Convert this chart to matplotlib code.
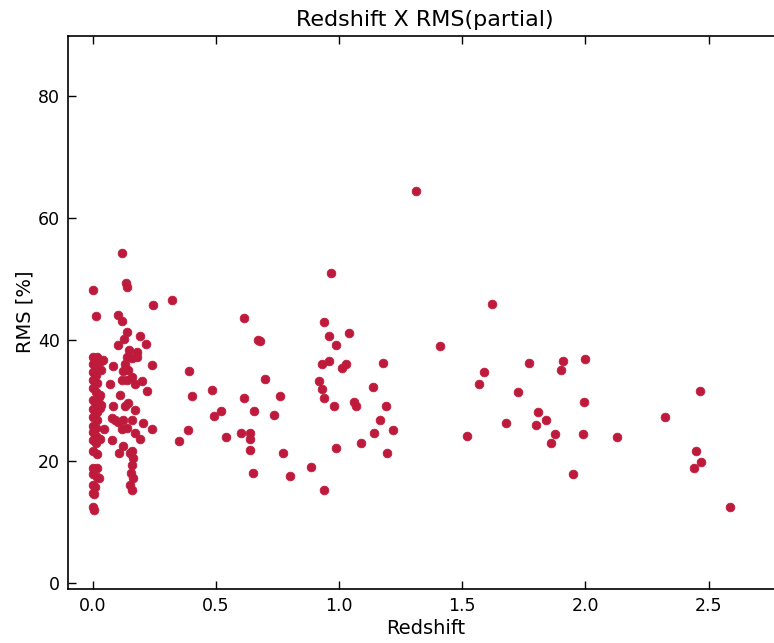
import matplotlib
matplotlib.use("Agg")
import matplotlib.pyplot as plt

# redshift / RMS pairs, grouped by redshift range
z_low = [0.003, 0.015, 0.0, 0.019, 0.035, 0.0, 0.019, 0.035, 0.0, 0.015,
         0.0, 0.019, 0.0, 0.015, 0.031, 0.0, 0.015, 0.035, 0.0, 0.019,
         0.031, 0.0, 0.019, 0.0, 0.015, 0.0, 0.015, 0.0, 0.015, 0.003,
         0.019, 0.003, 0.019, 0.003, 0.019, 0.0, 0.011, 0.0, 0.003, 0.007,
         0.045, 0.024, 0.004, 0.025, 0.028, 0.043]
rms_low = [48.2, 43.9, 37.2, 37.2, 36.5, 36.0, 35.7, 35.0, 34.7, 34.2,
           33.4, 32.9, 32.1, 31.4, 30.9, 30.1, 29.6, 29.3, 28.5, 28.1,
           28.8, 27.2, 26.8, 25.8, 25.5, 24.7, 24.2, 23.5, 22.9, 21.6,
           21.1, 18.9, 18.9, 17.8, 17.3, 16.1, 15.7, 14.7, 12.4, 12.0,
           25.2, 17.2, 14.5, 30.5, 23.7, 36.7]

z_near = [0.118, 0.134, 0.141, 0.104, 0.118, 0.246, 0.322, 0.138, 0.127, 0.191,
          0.101, 0.217, 0.148, 0.178, 0.138, 0.158, 0.178, 0.242, 0.083, 0.131,
          0.125, 0.145, 0.158, 0.138, 0.118, 0.172, 0.199, 0.072, 0.389, 0.222,
          0.112, 0.145, 0.131, 0.172, 0.084, 0.077, 0.104, 0.125, 0.158, 0.206,
          0.118, 0.138, 0.239, 0.172, 0.192, 0.077, 0.349, 0.388, 0.125, 0.107,
          0.152, 0.165, 0.158, 0.156, 0.165, 0.152, 0.158, 0.160, 0.092]
rms_near = [54.2, 49.3, 48.6, 44.1, 43.1, 45.7, 46.5, 41.3, 40.1, 40.6,
            39.1, 39.2, 38.3, 38.0, 37.2, 37.0, 37.2, 35.8, 35.7, 35.9,
            34.8, 35.0, 33.9, 33.4, 33.4, 32.7, 33.1, 32.6, 34.9, 31.5,
            30.9, 29.6, 29.0, 28.4, 29.0, 27.1, 26.5, 26.8, 26.8, 26.3,
            25.2, 25.5, 25.2, 24.6, 23.7, 23.4, 23.3, 25.1, 22.4, 21.4,
            21.4, 20.5, 19.4, 18.1, 17.2, 16.1, 15.3, 21.6, 26.8]

z_mid = [0.615, 0.673, 0.680, 0.699, 0.483, 0.404, 0.615, 0.759, 0.522, 0.494,
         0.655, 0.736, 0.540, 0.604, 0.640, 0.637, 0.640, 0.771, 0.649, 0.799,
         0.888, 0.940, 0.939, 0.960, 1.040, 0.989, 0.929, 0.960, 1.010, 1.028,
         1.179, 0.920, 0.929, 1.139, 0.939, 0.979, 1.059, 1.070, 1.190, 1.168,
         1.143, 1.219, 1.090, 0.986, 1.196, 0.968]
rms_mid = [43.6, 40.0, 39.7, 33.5, 31.7, 30.7, 30.4, 30.7, 28.3, 27.4,
           28.2, 27.6, 24.0, 24.6, 24.6, 23.7, 21.8, 21.3, 18.1, 17.6,
           19.1, 15.3, 42.9, 40.6, 41.1, 39.1, 36.0, 36.4, 35.3, 35.9,
           36.2, 33.1, 31.9, 32.2, 30.4, 29.0, 29.7, 29.0, 29.1, 26.7,
           24.6, 25.1, 22.9, 22.1, 21.3, 51.0]

z_high = [1.314, 1.619, 1.408, 1.769, 1.908, 1.899, 1.999, 1.589, 1.569, 1.728,
          1.995, 1.809, 1.839, 1.799, 1.678, 1.878, 1.991, 1.519, 2.128, 1.860,
          1.949, 2.466, 2.323, 2.448, 2.468, 2.441, 2.587]
rms_high = [64.5, 45.8, 39.0, 36.1, 36.4, 35.0, 36.8, 34.7, 32.6, 31.4,
            29.7, 28.1, 26.8, 26.0, 26.2, 24.5, 24.4, 24.2, 24.0, 22.9,
            17.9, 31.6, 27.2, 21.6, 19.9, 18.8, 12.4]

redshift = z_low + z_near + z_mid + z_high
rms = rms_low + rms_near + rms_mid + rms_high

plt.rcParams["font.family"] = ["DejaVu Sans"]
plt.rcParams["xtick.direction"] = "in"
plt.rcParams["ytick.direction"] = "in"
plt.rcParams["xtick.top"] = True
plt.rcParams["ytick.right"] = True

fig = plt.figure(figsize=(7.74, 6.43), dpi=100)
ax = fig.add_axes([0.0879, 0.0845, 0.9231, 0.860])

ax.scatter(redshift, rms, s=40, color="#be1a3c", edgecolors="#be1a3c",
           linewidths=0.5, zorder=3)

ax.set_xlim(-0.1, 2.8)
ax.set_ylim(-1, 90)
ax.set_xticks([0.0, 0.5, 1.0, 1.5, 2.0, 2.5])
ax.set_yticks([0, 20, 40, 60, 80])
ax.tick_params(axis="both", which="major", labelsize=12.5, length=5.5,
               width=1.0, pad=6, color="black")
for side in ax.spines.values():
    side.set_linewidth(1.2)

ax.set_title("Redshift X RMS(partial)", fontsize=16, pad=7)
ax.set_xlabel("Redshift", fontsize=14, labelpad=3)
ax.set_ylabel("RMS [%]", fontsize=14, labelpad=2)

fig.savefig("out.png", dpi=100)
